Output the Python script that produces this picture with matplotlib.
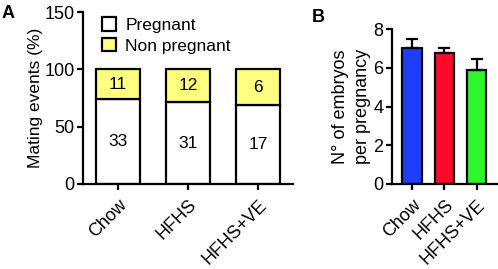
import numpy as np
import matplotlib
matplotlib.use("Agg")
import matplotlib.pyplot as plt

plt.rcParams['font.family'] = ['Liberation Sans', 'DejaVu Sans']

groups = ['Chow', 'HFHS', 'HFHS+VE']
# panel A: percent of mating events, with counts written on the bars
preg_pct = [74.5, 71.5, 68.5]
nonpreg_pct = [25.5, 28.5, 31.5]
preg_n = [33, 31, 17]
nonpreg_n = [11, 12, 6]
# panel B: embryos per pregnancy, mean and error
embryos = [7.03, 6.75, 5.88]
embryos_err = [0.47, 0.29, 0.59]
bar_colors = ['#1f3dff', '#ff0a2a', '#2ef52e']

fs = 13
fig = plt.figure(figsize=(4.98, 2.69), dpi=100)
axA = fig.add_axes([0.1667, 0.316, 0.4217, 0.639])
axB = fig.add_axes([0.787, 0.316, 0.211, 0.576])

lw = 1.6
x = np.arange(len(groups))

# ---- A
axA.bar(x, preg_pct, width=0.63, color='white', edgecolor='black', linewidth=lw, label='Pregnant')
axA.bar(x, nonpreg_pct, width=0.63, bottom=preg_pct, color='#ffff80', edgecolor='black',
        linewidth=lw, label='Non pregnant')
for i in range(len(groups)):
    axA.text(x[i], preg_pct[i] * 0.5, str(preg_n[i]), ha='center', va='center', fontsize=12.5)
    axA.text(x[i], preg_pct[i] + nonpreg_pct[i] / 2, str(nonpreg_n[i]), ha='center', va='center', fontsize=12.5)
axA.set_xlim(-0.5, 2.5)
axA.set_ylim(0, 150)
axA.set_yticks([0, 50, 100, 150])
axA.set_xticks(x)
axA.set_xticklabels(groups, rotation=45, ha='right', rotation_mode='anchor', fontsize=fs)
axA.set_ylabel('Mating events (%)', fontsize=12.5, labelpad=1)
axA.legend(loc='upper left', bbox_to_anchor=(0.04, 1.03), frameon=False, fontsize=12.5,
           handlelength=0.8, handleheight=0.8, handletextpad=0.55, labelspacing=0.28,
           borderaxespad=0.2)

# ---- B
axB.bar(x, embryos, width=0.62, color=bar_colors, edgecolor='black', linewidth=lw,
        yerr=[np.zeros(3), embryos_err], error_kw=dict(ecolor='black', elinewidth=lw, capsize=4, capthick=lw))
axB.set_xlim(-0.64, 2.64)
axB.set_ylim(0, 8)
axB.set_yticks([0, 2, 4, 6, 8])
axB.set_xticks(x)
axB.set_xticklabels(groups, rotation=45, ha='right', rotation_mode='anchor', fontsize=fs)
axB.set_ylabel('N° of embryos\nper pregnancy', fontsize=fs, labelpad=2, linespacing=1.35)

for ax in (axA, axB):
    ax.spines['top'].set_visible(False)
    ax.spines['right'].set_visible(False)
    ax.spines['left'].set_linewidth(lw)
    ax.spines['bottom'].set_linewidth(lw)
    ax.tick_params(width=lw, length=4, labelsize=fs)
    ax.tick_params(axis='x', pad=5)
    ax.tick_params(axis='y', pad=2)

fig.text(0.004, 0.98, 'A', fontsize=13, fontweight='bold', va='top')
fig.text(0.627, 0.965, 'B', fontsize=13, fontweight='bold', va='top')

fig.savefig('out.png', dpi=100)
